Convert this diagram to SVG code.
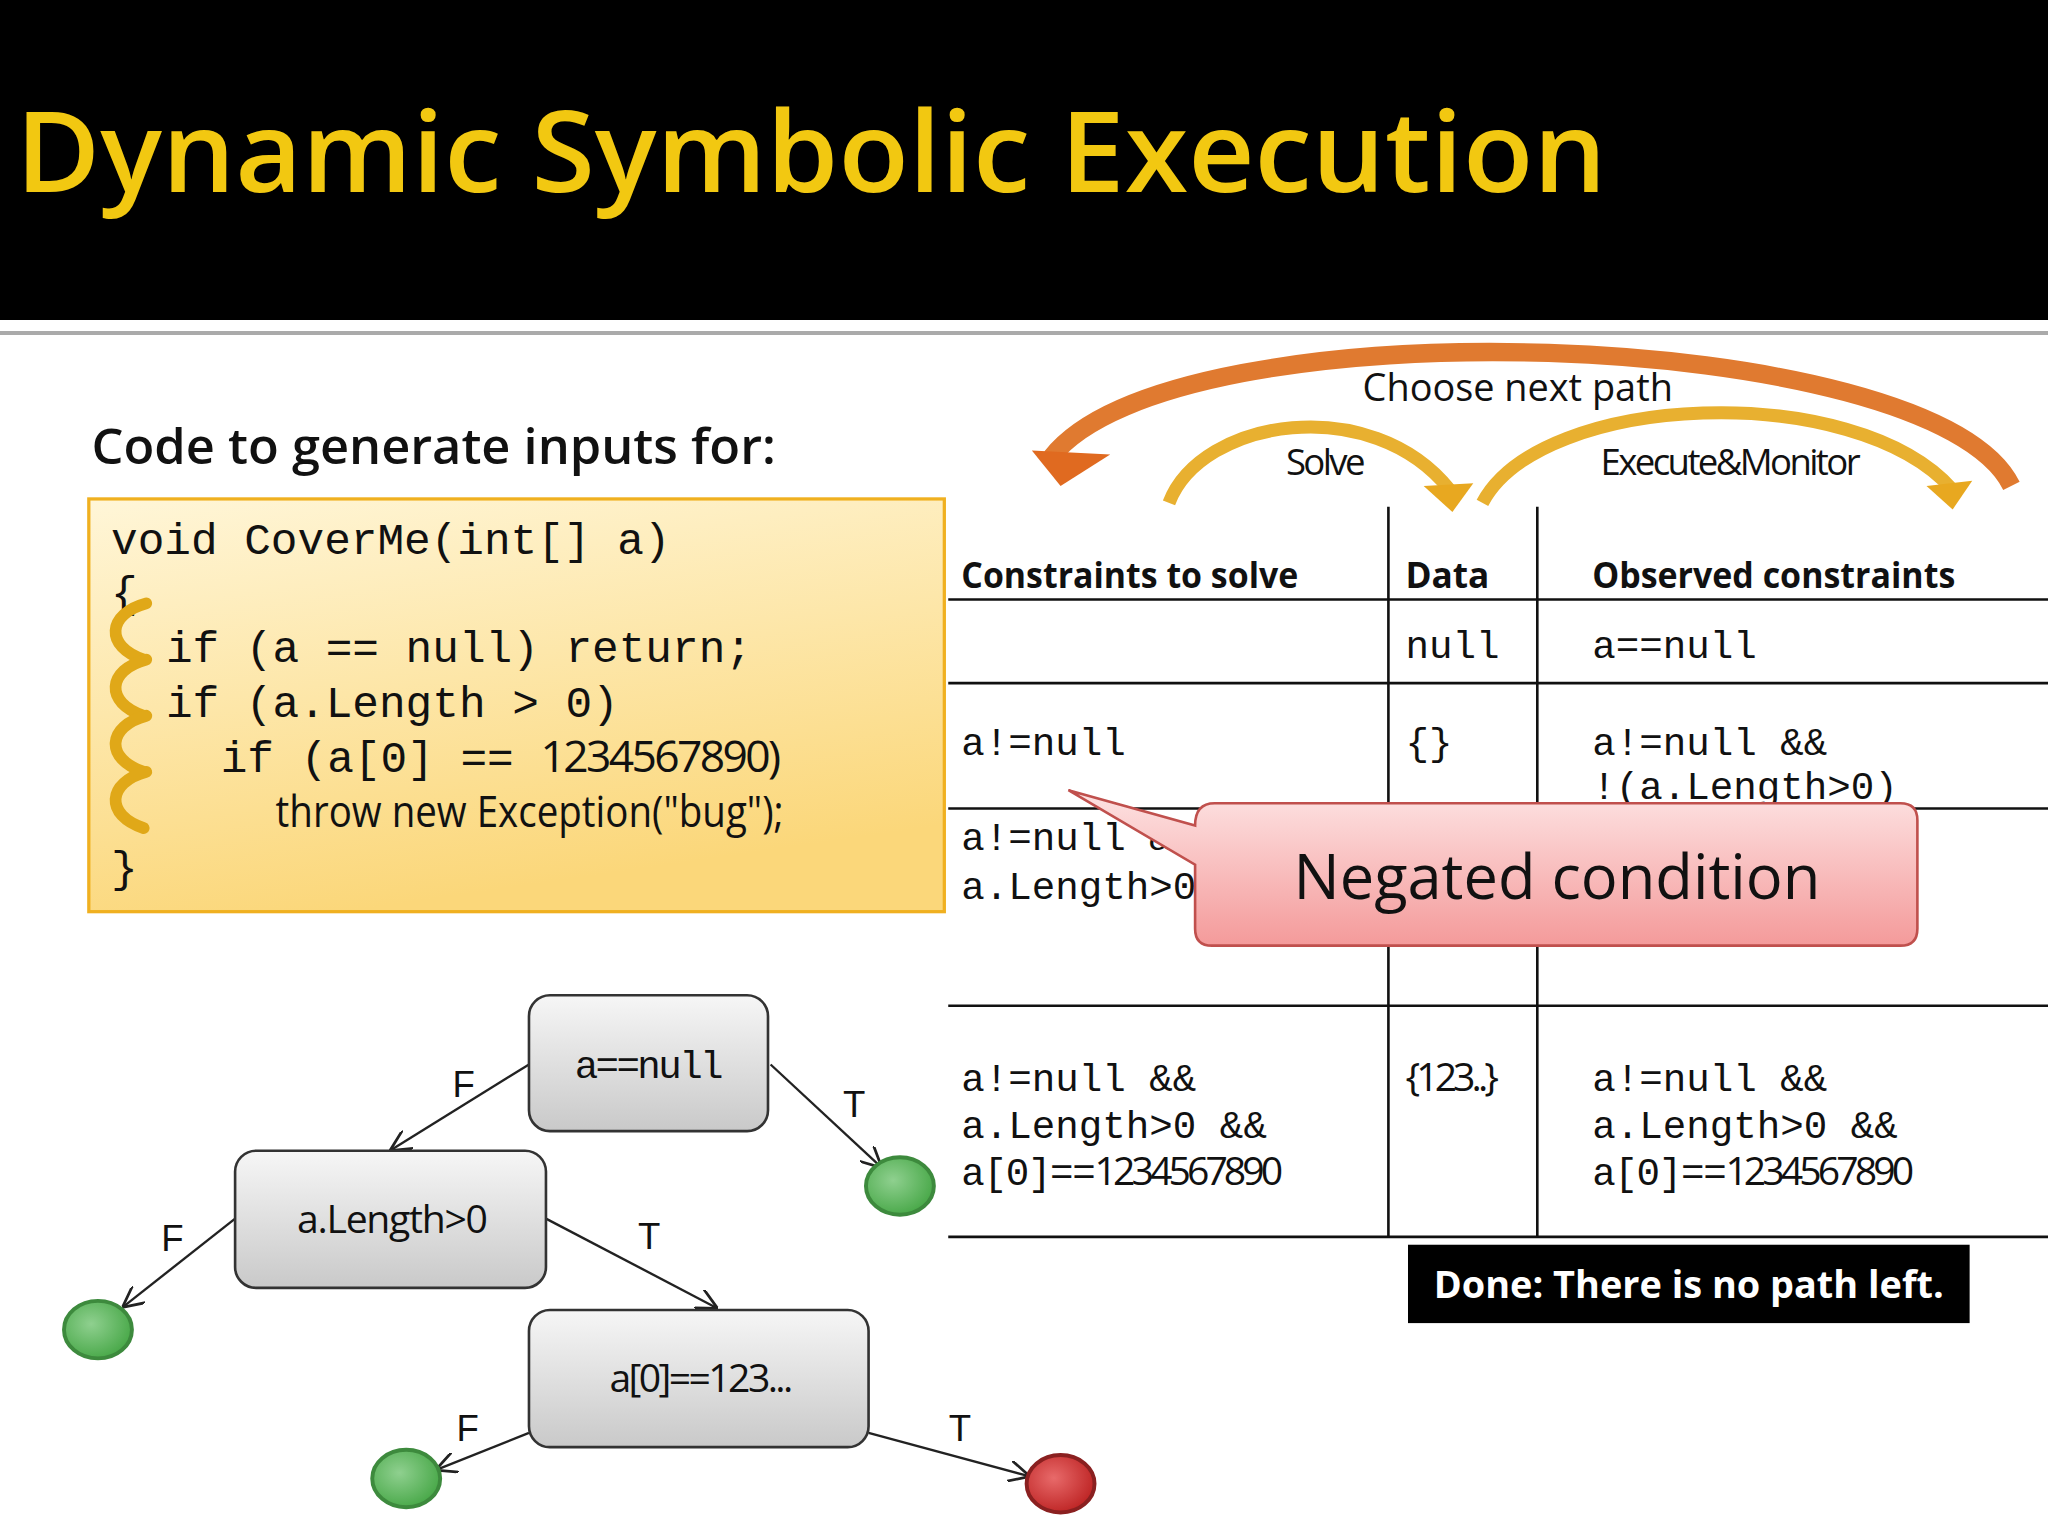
<svg xmlns="http://www.w3.org/2000/svg" width="2048" height="1536" viewBox="0 0 2048 1536">
<defs>
<linearGradient id="code" x1="0" y1="0" x2="0.3" y2="1"><stop offset="0" stop-color="#fff6d8"/><stop offset="1" stop-color="#fbd77a"/></linearGradient>
<linearGradient id="node" x1="0" y1="0" x2="0" y2="1"><stop offset="0" stop-color="#f6f6f6"/><stop offset="1" stop-color="#c9c9c9"/></linearGradient>
<linearGradient id="pink" x1="0" y1="0" x2="0" y2="1"><stop offset="0" stop-color="#fde3e3"/><stop offset="1" stop-color="#f49a9a"/></linearGradient>
<radialGradient id="green" cx="0.4" cy="0.4" r="0.6"><stop offset="0" stop-color="#8fd08f"/><stop offset="1" stop-color="#4caa4c"/></radialGradient>
<radialGradient id="red" cx="0.4" cy="0.4" r="0.6"><stop offset="0" stop-color="#e86a6a"/><stop offset="1" stop-color="#c02828"/></radialGradient>
<marker id="ah" viewBox="0 0 10 10" refX="9" refY="5" markerWidth="9" markerHeight="9" orient="auto"><path d="M0,0 L10,5 L0,10" fill="none" stroke="#222" stroke-width="1.3"/></marker>
<style>
.mono{font-family:"Liberation Mono","DejaVu Sans Mono",monospace;font-size:34px;fill:#111}
.tm{font-family:"Liberation Mono","DejaVu Sans Mono",monospace;font-size:30px;fill:#111}
.sans{font-family:"Open Sans","Noto Sans",sans-serif;fill:#111}
.hd{font-family:"Open Sans","Noto Sans",sans-serif;font-size:27px;font-weight:bold;fill:#111}
.edge{stroke:#222;stroke-width:1.8;fill:none;marker-end:url(#ah)}
.nd{fill:url(#node);stroke:#333;stroke-width:2}
.lbl{font-family:"Liberation Sans",Arial,sans-serif;font-size:28px;fill:#111}
.tl{stroke:#111;stroke-width:2}
</style>
</defs>
<rect width="2048" height="1536" fill="#fff"/>
<g transform="scale(1.30612)">
<rect x="0" y="0" width="1568" height="245" fill="#000"/>
<line x1="0" y1="255" x2="1568" y2="255" stroke="#aaa" stroke-width="3"/>
<text x="12" y="147" font-family="Open Sans,Noto Sans,sans-serif" font-size="86" font-weight="600" fill="#f2c811" textLength="1218" lengthAdjust="spacingAndGlyphs">Dynamic Symbolic Execution</text>

<g id="codeheading"><text x="70" y="355" class="sans" font-size="37" font-weight="600" textLength="524" lengthAdjust="spacingAndGlyphs">Code to generate inputs for:</text></g>
<g id="codebox">
<rect x="68" y="382" width="655" height="316" fill="url(#code)" stroke="#f0b020" stroke-width="2.5"/>
<text x="85" y="424" class="mono">void CoverMe(int[] a)</text>
<text x="85" y="465" class="mono">{</text>
<text x="127" y="507" class="mono">if (a == null) return;</text>
<text x="127" y="549" class="mono">if (a.Length &gt; 0)</text>
<text x="169" y="591" class="mono">if (a[0] == <tspan font-family="Open Sans,sans-serif" letter-spacing="-2">1234567890)</tspan></text>
<text x="211" y="633" style="font-family:'Open Sans',sans-serif;font-size:34px;fill:#111" textLength="389" lengthAdjust="spacingAndGlyphs">throw new Exception("bug");</text>
<text x="85" y="675" class="mono">}</text>
<g fill="none" stroke="#e0a818" stroke-width="9" stroke-linecap="round">
<path d="M112,462 C82,470 80,495 110,505"/><path d="M112,505 C82,513 80,538 110,548"/><path d="M112,548 C82,556 80,581 110,591"/><path d="M112,591 C82,599 80,624 110,634"/>
</g>
</g>

<g id="arrows">
<path d="M1540,372 C1480,250 900,230 805,350" fill="none" stroke="#e07a30" stroke-width="14"/>
<polygon points="790,345 850,348 812,372" fill="#e06a20"/>
<path d="M895,385 C920,320 1050,300 1110,375" fill="none" stroke="#e8b030" stroke-width="10"/>
<polygon points="1090,372 1128,370 1112,392" fill="#e8a820"/>
<path d="M1135,385 C1180,300 1420,290 1495,375" fill="none" stroke="#e8b030" stroke-width="10"/>
<polygon points="1475,372 1510,368 1495,390" fill="#e8a820"/>
<text x="1162" y="307" text-anchor="middle" class="sans" font-size="29">Choose next path</text>
<text x="1014" y="364" text-anchor="middle" class="sans" font-size="28" letter-spacing="-2">Solve</text>
<text x="1324" y="364" text-anchor="middle" class="sans" font-size="28" letter-spacing="-2">Execute&amp;Monitor</text>
</g>

<g id="table">
<line class="tl" x1="1063" y1="388" x2="1063" y2="947"/>
<line class="tl" x1="1177" y1="388" x2="1177" y2="947"/>
<line class="tl" x1="726" y1="459" x2="1568" y2="459"/>
<line class="tl" x1="726" y1="523" x2="1568" y2="523"/>
<line class="tl" x1="726" y1="619" x2="1568" y2="619"/>
<line class="tl" x1="726" y1="770" x2="1568" y2="770"/>
<line class="tl" x1="726" y1="947" x2="1568" y2="947"/>
<text x="736" y="450" class="hd" textLength="258" lengthAdjust="spacingAndGlyphs">Constraints to solve</text>
<text x="1076" y="450" class="hd">Data</text>
<text x="1219" y="450" class="hd" textLength="278" lengthAdjust="spacingAndGlyphs">Observed constraints</text>
<text x="1076" y="504" class="tm">null</text>
<text x="1219" y="504" class="tm">a==null</text>
<text x="736" y="578" class="tm">a!=null</text>
<text x="1076" y="578" class="tm">{}</text>
<text x="1219" y="578" class="tm">a!=null &amp;&amp;</text>
<text x="1219" y="612" class="tm">!(a.Length&gt;0)</text>
<text x="736" y="651" class="tm">a!=null &amp;&amp;</text>
<text x="736" y="688" class="tm">a.Length&gt;0</text>
<text x="736" y="835" class="tm">a!=null &amp;&amp;</text>
<text x="736" y="871" class="tm">a.Length&gt;0 &amp;&amp;</text>
<text x="736" y="907" class="tm" letter-spacing="-1">a[0]==<tspan font-family="Open Sans,sans-serif" letter-spacing="-3">1234567890</tspan></text>
<text x="1076" y="835" class="sans" font-size="30" letter-spacing="-3">{123..}</text>
<text x="1219" y="835" class="tm">a!=null &amp;&amp;</text>
<text x="1219" y="871" class="tm">a.Length&gt;0 &amp;&amp;</text>
<text x="1219" y="907" class="tm" letter-spacing="-1">a[0]==<tspan font-family="Open Sans,sans-serif" letter-spacing="-3">1234567890</tspan></text>
</g>

<g id="callout">
<path d="M930,615 L1455,615 Q1468,615 1468,628 L1468,711 Q1468,724 1455,724 L928,724 Q915,724 915,711 L915,662 L818,605 L915,632 Q915,615 930,615 Z" fill="url(#pink)" stroke="#c0504d" stroke-width="2"/>
<text x="1192" y="688" text-anchor="middle" class="sans" font-size="47">Negated condition</text>
</g>

<g id="done"><rect x="1078" y="953" width="430" height="60" fill="#000"/><text x="1293" y="994" text-anchor="middle" class="sans" style="fill:#fff" font-size="29" font-weight="bold">Done: There is no path left.</text></g>

<g id="connectors">
<line class="edge" x1="405" y1="815" x2="300" y2="880"/>
<line class="edge" x1="590" y1="815" x2="674" y2="893"/>
<line class="edge" x1="180" y1="933" x2="95" y2="1000"/>
<line class="edge" x1="418" y1="933" x2="548" y2="1001"/>
<line class="edge" x1="405" y1="1097" x2="335" y2="1125"/>
<line class="edge" x1="665" y1="1097" x2="787" y2="1130"/>
<text x="355" y="840" class="lbl" text-anchor="middle">F</text>
<text x="654" y="855" class="lbl" text-anchor="middle">T</text>
<text x="132" y="958" class="lbl" text-anchor="middle">F</text>
<text x="497" y="956" class="lbl" text-anchor="middle">T</text>
<text x="358" y="1103" class="lbl" text-anchor="middle">F</text>
<text x="735" y="1103" class="lbl" text-anchor="middle">T</text>
</g>
<g id="n1"><rect class="nd" x="405" y="762" width="183" height="104" rx="16"/><text x="496" y="825" text-anchor="middle" class="tm" letter-spacing="-2">a==null</text></g>
<g id="n2"><rect class="nd" x="180" y="881" width="238" height="105" rx="16"/><text x="300" y="944" text-anchor="middle" class="sans" font-size="30" letter-spacing="-1">a.Length&gt;0</text></g>
<g id="n3"><rect class="nd" x="405" y="1003" width="260" height="105" rx="16"/><text x="536" y="1066" text-anchor="middle" class="sans" font-size="30" letter-spacing="-2">a[0]==123...</text></g>
<g id="c1"><ellipse cx="689" cy="908" rx="26" ry="22" fill="url(#green)" stroke="#3d8a3d" stroke-width="3"/></g>
<g id="c2"><ellipse cx="75" cy="1018" rx="26" ry="22" fill="url(#green)" stroke="#3d8a3d" stroke-width="3"/></g>
<g id="c3"><ellipse cx="311" cy="1132" rx="26" ry="22" fill="url(#green)" stroke="#3d8a3d" stroke-width="3"/></g>
<g id="c4"><ellipse cx="812" cy="1136" rx="26" ry="22" fill="url(#red)" stroke="#8a2020" stroke-width="3"/></g>
</g>
</svg>
